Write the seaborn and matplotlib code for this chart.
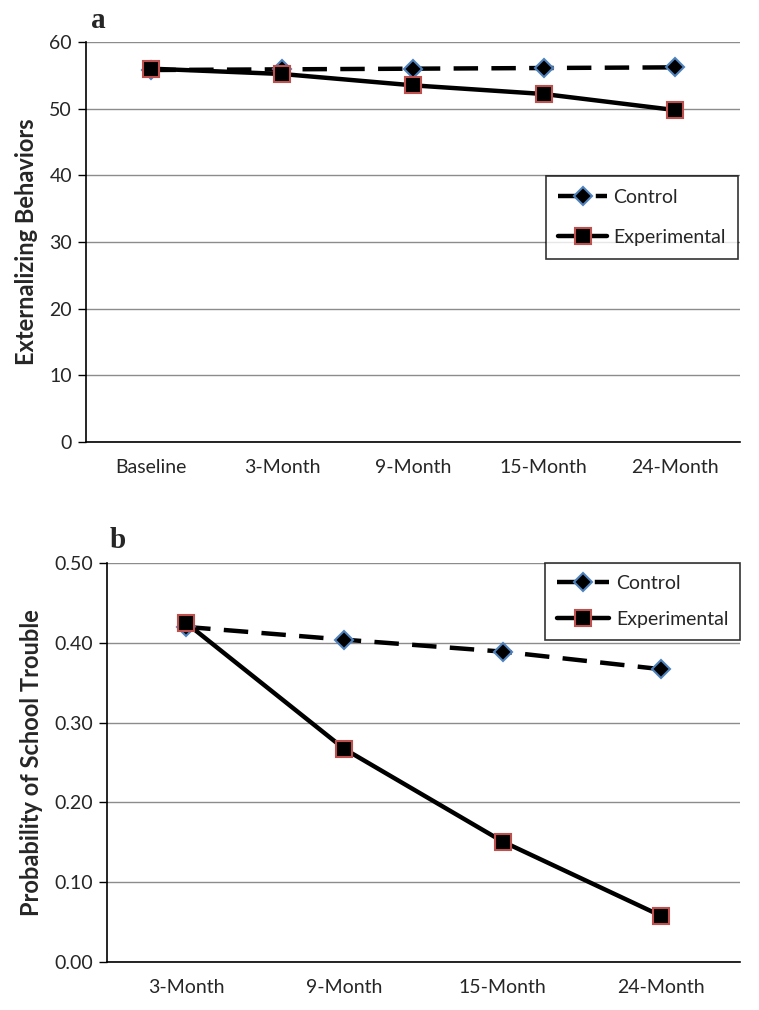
import numpy as np
import pandas as pd
import seaborn as sns
import matplotlib.pyplot as plt
from matplotlib.ticker import FixedLocator

# data
waves_a = ['Baseline', '3-Month', '9-Month', '15-Month', '24-Month']
control_a = [55.8, 55.9, 56.0, 56.1, 56.2]
experimental_a = [56.0, 55.2, 53.5, 52.2, 49.8]

waves_b = ['3-Month', '9-Month', '15-Month', '24-Month']
control_b = [0.420, 0.404, 0.389, 0.367]
experimental_b = [0.425, 0.267, 0.151, 0.058]

sns.set_style('white')
plt.rcParams['font.family'] = ['Lato', 'DejaVu Sans']

ctrl_style = dict(color='black', linewidth=3.2, dashes=(5.5, 3), marker='D',
                  markersize=9, markerfacecolor='black',
                  markeredgecolor='#4F81BD', markeredgewidth=1.5)
exp_style = dict(color='black', linewidth=3.2, marker='s',
                 markersize=12, markerfacecolor='black',
                 markeredgecolor='#C0504D', markeredgewidth=1.5)

fig = plt.figure(figsize=(7.59, 10.10), dpi=100)
ax_a = fig.add_axes([0.1133, 0.5624, 0.8617, 0.396])
ax_b = fig.add_axes([0.141, 0.0475, 0.834, 0.395])


def draw_panel(ax, waves, control, experimental, ylim, yticks, yfmt, ylabel):
    df = pd.DataFrame({'wave': waves, 'Control': control,
                       'Experimental': experimental})
    sns.lineplot(data=df, x='wave', y='Control', ax=ax, label='Control',
                 sort=False, **ctrl_style)
    sns.lineplot(data=df, x='wave', y='Experimental', ax=ax,
                 label='Experimental', sort=False, zorder=3, **exp_style)
    n = len(waves)
    ax.set_xlim(-0.5, n - 0.5)
    ax.set_ylim(*ylim)
    ax.set_yticks(yticks)
    ax.set_yticklabels([yfmt.format(v) for v in yticks], fontsize=14)
    ax.set_xticks(range(n))
    ax.set_xticklabels(waves, fontsize=14)
    ax.tick_params(axis='x', which='major', length=0, pad=12)
    ax.xaxis.set_minor_locator(FixedLocator(np.arange(-0.5, n, 1.0)))
    ax.tick_params(axis='x', which='minor', length=5, width=1, direction='out',
                   color='black')
    ax.tick_params(axis='y', length=6, width=1, direction='out', color='black',
                   left=True, pad=4)
    ax.yaxis.grid(True, color='#8c8c8c', linewidth=1)
    ax.set_axisbelow(True)
    for side in ['top', 'right']:
        ax.spines[side].set_visible(False)
    for side in ['left', 'bottom']:
        ax.spines[side].set_color('black')
        ax.spines[side].set_linewidth(1.2)
    ax.set_xlabel('')
    ax.set_ylabel(ylabel, fontsize=17, fontweight='bold', labelpad=8)


draw_panel(ax_a, waves_a, control_a, experimental_a, (0, 60),
           [0, 10, 20, 30, 40, 50, 60], '{:.0f}', 'Externalizing Behaviors')
draw_panel(ax_b, waves_b, control_b, experimental_b, (0, 0.5),
           [0.0, 0.1, 0.2, 0.3, 0.4, 0.5], '{:.2f}',
           'Probability of School Trouble')

leg_a = ax_a.legend(loc='upper left', bbox_to_anchor=(0.703, 0.665),
                    fontsize=14, frameon=True, fancybox=False,
                    handlelength=2.5, borderpad=0.65, labelspacing=1.2,
                    handletextpad=0.3, borderaxespad=0, edgecolor='black')
leg_a.get_frame().set_linewidth(1.2)
leg_b = ax_b.legend(loc='upper right', bbox_to_anchor=(1.0, 1.0),
                    fontsize=14, frameon=True, fancybox=False,
                    handlelength=2.7, borderpad=0.6, labelspacing=1.0,
                    handletextpad=0.35, borderaxespad=0, edgecolor='black')
leg_b.get_frame().set_linewidth(1.2)

fig.text(98 / 759, 1 - 20 / 1010, 'a', fontsize=21, fontweight='bold',
         family='Liberation Serif', ha='center', va='center')
fig.text(118 / 759, 1 - 541 / 1010, 'b', fontsize=21, fontweight='bold',
         family='Liberation Serif', ha='center', va='center')

fig.savefig('out.png', dpi=100)
